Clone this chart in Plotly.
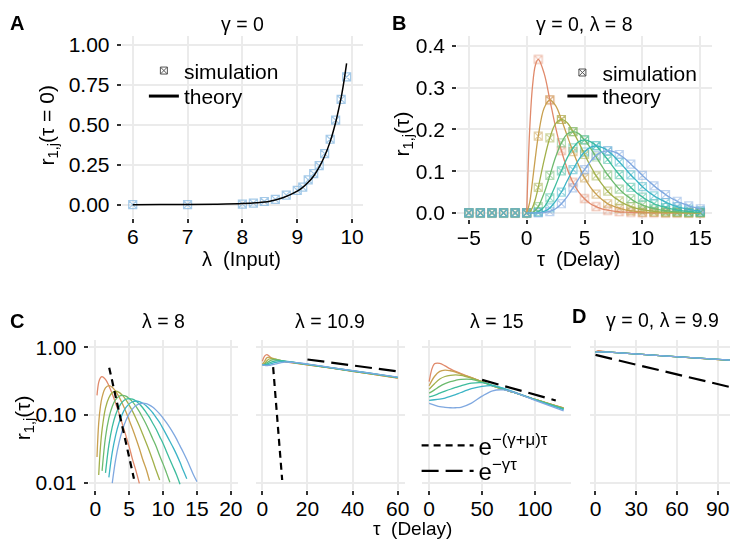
import plotly.graph_objects as go

# The page puts an 8 px body margin round the plot, so the figure is sized to fit
# inside the 743x552 window and every position below is given in window pixels.
OFF = 8
W, H = 743 - 2 * OFF, 552 - 2 * OFF
FONT = "Liberation Sans, Arial, sans-serif"
COLORS = ["#E0896A", "#C9A050", "#A2B04A", "#6DBA6E", "#3DBC9E", "#3CB4C6", "#7FA8E0"]
SIM_A_COLOR = "#7FB5E0"

# ---- panel A: r(tau=0) vs input lambda
lam_sim = [6, 7, 8, 8.2, 8.4, 8.6, 8.8, 9, 9.1, 9.2, 9.3, 9.4, 9.5, 9.6, 9.7, 9.8, 9.9]
r0_sim = [0, 0, 0.004, 0.01, 0.02, 0.033, 0.06, 0.09, 0.11, 0.155, 0.195, 0.245, 0.32, 0.41, 0.53, 0.66, 0.80]
lam_theory = [6, 6.5, 7, 7.5, 8, 8.25, 8.5, 8.75, 9, 9.1, 9.2, 9.3, 9.4, 9.5, 9.6, 9.7, 9.75, 9.8, 9.85, 9.9]
r0_theory = [0, 0.0005, 0.001, 0.003, 0.007, 0.012, 0.022, 0.045, 0.085, 0.108, 0.14, 0.18, 0.235,
             0.305, 0.395, 0.515, 0.59, 0.67, 0.77, 0.885]

# ---- panel B: r_{1,j}(tau), gamma=0, lambda=8
tau_sim = [-5, -4, -3, -2, -1, 0, 1, 2, 3, 4, 5, 6, 7, 8, 9, 10, 11, 12, 13, 14, 15]
sim_j1 = [0, 0, 0, 0, 0, 0, .368, .271, .149, .073, .034, .015, .006, .003, .001, 0, 0, 0, 0, 0, 0]
sim_j2 = [0, 0, 0, 0, 0, 0, .184, .271, .224, .147, .084, .045, .022, .011, .005, .002, .001, 0, 0, 0, 0]
sim_j3 = [0, 0, 0, 0, 0, 0, .061, .180, .224, .195, .140, .089, .052, .029, .015, .008, .004, .002, .001, 0, 0]
sim_j4 = [0, 0, 0, 0, 0, 0, .015, .090, .168, .195, .175, .134, .091, .057, .034, .019, .010, .005, .003, .001, .001]
sim_j5 = [0, 0, 0, 0, 0, 0, .003, .036, .101, .156, .175, .161, .128, .092, .061, .038, .022, .013, .007, .004, .002]
sim_j6 = [0, 0, 0, 0, 0, 0, .001, .012, .050, .104, .146, .161, .149, .122, .091, .063, .041, .025, .015, .009, .005]
sim_j7 = [0, 0, 0, 0, 0, 0, 0, .003, .022, .060, .104, .138, .149, .140, .117, .090, .065, .044, .028, .017, .010]

tau_th = [0, .25, .5, .75, 1, 1.5, 2, 2.5, 3, 3.5, 4, 4.5, 5, 5.5, 6, 6.5, 7, 7.5, 8, 8.5, 9, 9.5,
          10, 10.5, 11, 11.5, 12, 12.5, 13, 13.5, 14, 14.5, 15]
th_j1 = [0, .195, .303, .354, .368, .335, .271, .205, .149, .106, .073, .050, .034, .022, .015, .0098,
         .0064, .0041, .0027, .0017, .0011, .0007, .0005, .0003, .0002, .0001, .0001, 0, 0, 0, 0, 0, 0]
th_j2 = [0, .024, .076, .133, .184, .251, .271, .257, .224, .185, .147, .113, .084, .062, .045, .032,
         .022, .016, .0107, .0074, .0050, .0034, .0023, .0015, .0010, .0007, .0004, .0003, .0002, .0001,
         .0001, 0, 0]
th_j3 = [0, .002, .013, .033, .061, .126, .180, .214, .224, .216, .195, .169, .140, .113, .089, .069,
         .052, .039, .029, .021, .015, .011, .0076, .0053, .0037, .0026, .0018, .0012, .0008, .0006,
         .0004, .0003, .0002]
th_j4 = [0, .0001, .0016, .0062, .015, .047, .090, .134, .168, .189, .195, .190, .175, .156, .134, .112,
         .091, .073, .057, .044, .034, .025, .019, .014, .0102, .0074, .0053, .0038, .0027, .0019,
         .0013, .0009, .0006]
th_j5 = [0, 0, .0002, .0009, .0031, .014, .036, .067, .101, .132, .156, .171, .175, .171, .161, .145,
         .128, .109, .092, .075, .061, .048, .038, .029, .022, .017, .013, .0095, .0070, .0051, .0037,
         .0026, .0019]
th_j6 = [0, 0, 0, .0001, .0005, .0035, .012, .028, .050, .077, .104, .128, .146, .157, .161, .157,
         .149, .137, .122, .107, .091, .077, .063, .051, .041, .033, .026, .020, .015, .0115, .0087,
         .0063, .0048]
th_j7 = [0, 0, 0, 0, .0001, .0008, .0034, .0099, .022, .039, .060, .082, .104, .123, .138, .146, .149,
         .147, .140, .130, .117, .104, .090, .077, .065, .054, .044, .035, .028, .022, .017, .013, .0104]

# ---- panel C: log scale, three input levels
c1_fast_tau = [2.05, 5.7]
c1_fast_r = [0.5, 0.0115]

c2_tau = [0, 1, 2, 3, 4, 5, 6, 8, 10, 15, 20, 30, 40, 50, 60]
c2_j1 = [0.62, 0.74, 0.78, 0.74, 0.69, 0.66, 0.645, 0.625, 0.61, 0.58, 0.55, 0.495, 0.44, 0.395, 0.35]
c2_j2 = [0.56, 0.62, 0.70, 0.715, 0.70, 0.68, 0.66, 0.635, 0.615, 0.582, 0.552, 0.495, 0.442, 0.396, 0.352]
c2_j3 = [0.555, 0.575, 0.63, 0.67, 0.68, 0.675, 0.665, 0.64, 0.62, 0.585, 0.555, 0.497, 0.444, 0.398, 0.354]
c2_j4 = [0.555, 0.56, 0.59, 0.62, 0.645, 0.655, 0.655, 0.64, 0.62, 0.587, 0.557, 0.499, 0.446, 0.40, 0.356]
c2_j5 = [0.555, 0.55, 0.565, 0.585, 0.605, 0.62, 0.63, 0.635, 0.625, 0.59, 0.56, 0.50, 0.448, 0.402, 0.358]
c2_j6 = [0.555, 0.545, 0.55, 0.56, 0.575, 0.59, 0.60, 0.615, 0.62, 0.592, 0.562, 0.502, 0.45, 0.404, 0.36]
c2_j7 = [0.555, 0.54, 0.535, 0.54, 0.548, 0.557, 0.568, 0.59, 0.605, 0.595, 0.565, 0.505, 0.452, 0.406, 0.362]
c2_fast_tau = [4.8, 8.8]
c2_fast_r = [0.51, 0.011]
c2_slow_tau = [20, 60]
c2_slow_r = [0.66, 0.44]

c3_tau = [0, 5, 10, 15, 20, 25, 30, 40, 50, 60, 70, 80, 100, 127]
c3_j1 = [0.31, 0.57, 0.58, 0.53, 0.48, 0.44, 0.41, 0.355, 0.31, 0.27, 0.24, 0.215, 0.17, 0.127]
c3_j2 = [0.27, 0.37, 0.44, 0.46, 0.45, 0.43, 0.40, 0.355, 0.31, 0.27, 0.24, 0.215, 0.17, 0.126]
c3_j3 = [0.24, 0.29, 0.34, 0.37, 0.385, 0.39, 0.385, 0.35, 0.31, 0.27, 0.24, 0.215, 0.17, 0.126]
c3_j4 = [0.21, 0.235, 0.265, 0.29, 0.31, 0.325, 0.335, 0.335, 0.305, 0.27, 0.24, 0.215, 0.17, 0.124]
c3_j5 = [0.185, 0.195, 0.21, 0.225, 0.24, 0.255, 0.27, 0.295, 0.30, 0.275, 0.245, 0.215, 0.168, 0.122]
c3_j6 = [0.165, 0.168, 0.172, 0.178, 0.188, 0.20, 0.215, 0.245, 0.265, 0.27, 0.25, 0.22, 0.168, 0.12]
c3_j7 = [0.148, 0.14, 0.133, 0.13, 0.128, 0.128, 0.13, 0.15, 0.19, 0.228, 0.235, 0.215, 0.165, 0.115]
c3_slow_tau = [50, 119.6]
c3_slow_r = [0.33, 0.164]

# ---- panel D: gamma=0, lambda=9.9
d_tau = [0, 2, 5, 10, 50, 100.5]
d_j1 = [0.85, 0.89, 0.87, 0.85, 0.745, 0.638]
d_j2 = [0.85, 0.87, 0.865, 0.85, 0.746, 0.639]
d_j3 = [0.85, 0.862, 0.86, 0.848, 0.747, 0.640]
d_j4 = [0.85, 0.858, 0.858, 0.848, 0.747, 0.641]
d_j5 = [0.85, 0.855, 0.856, 0.847, 0.747, 0.642]
d_j6 = [0.85, 0.853, 0.855, 0.847, 0.748, 0.643]
d_j7 = [0.85, 0.851, 0.853, 0.846, 0.748, 0.645]
d_slow_tau = [0, 100.5]
d_slow_r = [0.77, 0.255]

SIM_B = [sim_j1, sim_j2, sim_j3, sim_j4, sim_j5, sim_j6, sim_j7]
TH_B = [th_j1, th_j2, th_j3, th_j4, th_j5, th_j6, th_j7]
C2 = [c2_j1, c2_j2, c2_j3, c2_j4, c2_j5, c2_j6, c2_j7]
C3 = [c3_j1, c3_j2, c3_j3, c3_j4, c3_j5, c3_j6, c3_j7]
D = [d_j1, d_j2, d_j3, d_j4, d_j5, d_j6, d_j7]


def xd(px):
    return (px - OFF) / W


def yd(px):
    return 1 - (px - OFF) / H


def visible_on_log(xs, ys, floor=0.0095):
    pairs = [(x, y) for x, y in zip(xs, ys) if x > 0 and y >= floor]
    return [p[0] for p in pairs], [p[1] for p in pairs]


fig = go.Figure()


def curve(x, y, ax, color, width=1.3, dash="solid"):
    fig.add_trace(go.Scatter(
        x=x, y=y, mode="lines", xaxis="x" + ax, yaxis="y" + ax,
        line=dict(color=color, width=width, dash=dash, shape="spline"),
        showlegend=False, hoverinfo="skip",
    ))


# panel A
fig.add_trace(go.Scatter(x=lam_sim, y=r0_sim, mode="markers", xaxis="x", yaxis="y",
                         marker=dict(symbol="square-x-open", size=8, color=SIM_A_COLOR,
                                     line=dict(width=1.2)),
                         opacity=0.7, showlegend=False))
curve(lam_theory, r0_theory, "", "black", width=1.5)

# panel B
for i in range(7):
    fig.add_trace(go.Scatter(x=tau_sim, y=SIM_B[i], mode="markers", xaxis="x2", yaxis="y2",
                             marker=dict(symbol="square-x-open", size=8, color=COLORS[i],
                                         line=dict(width=1.2)),
                             opacity=0.5, showlegend=False))
for i in range(7):
    curve(tau_th, TH_B[i], "2", COLORS[i])

# panel C1..C3, D
for i in range(7):
    xs, ys = visible_on_log(tau_th, TH_B[i])
    curve(xs, ys, "3", COLORS[i])
    curve(c2_tau, C2[i], "4", COLORS[i])
    curve(c3_tau, C3[i], "5", COLORS[i])
    curve(d_tau, D[i], "6", COLORS[i])

SHORT = "7px,5px"
LONG = "17px,7px"
curve(c1_fast_tau, c1_fast_r, "3", "black", 2.2, SHORT)
curve(c2_fast_tau, c2_fast_r, "4", "black", 2.2, SHORT)
curve(c2_slow_tau, c2_slow_r, "4", "black", 2.2, LONG)
curve(c3_slow_tau, c3_slow_r, "5", "black", 2.2, LONG)
curve(d_slow_tau, d_slow_r, "6", "black", 2.2, LONG)

# legend entries, one small legend per entry so each row sits where the reference has it
fig.add_trace(go.Scatter(x=[None], y=[None], mode="markers", xaxis="x", yaxis="y",
                         marker=dict(symbol="square-x-open", size=7, color="#555555"),
                         name="simulation", legend="legend"))
fig.add_trace(go.Scatter(x=[None], y=[None], mode="lines", xaxis="x", yaxis="y",
                         line=dict(color="black", width=3), name="theory", legend="legend2"))
fig.add_trace(go.Scatter(x=[None], y=[None], mode="markers", xaxis="x2", yaxis="y2",
                         marker=dict(symbol="square-x-open", size=7, color="#555555"),
                         name="simulation", legend="legend3"))
fig.add_trace(go.Scatter(x=[None], y=[None], mode="lines", xaxis="x2", yaxis="y2",
                         line=dict(color="black", width=3), name="theory", legend="legend4"))
fig.add_trace(go.Scatter(x=[None], y=[None], mode="lines", xaxis="x5", yaxis="y5",
                         line=dict(color="black", width=2.2, dash=SHORT),
                         name="e<sup>\u2212(\u03b3+\u03bc)\u03c4</sup>", legend="legend5"))
fig.add_trace(go.Scatter(x=[None], y=[None], mode="lines", xaxis="x5", yaxis="y5",
                         line=dict(color="black", width=2.2, dash=LONG),
                         name="e<sup>\u2212\u03b3\u03c4</sup>", legend="legend6"))

# axes (panel edges in window pixels: left, top, right, bottom)
PANELS = {
    "": (121.7, 31.7, 365, 217),
    "2": (460, 31.7, 716.7, 218),
    "3": (88.2, 341.7, 238.5, 493.6),
    "4": (256.6, 341.7, 406.8, 493.6),
    "5": (424.3, 341.7, 575, 493.6),
    "6": (594.3, 341.7, 735, 493.6),
}
TICK = 21
base = dict(showgrid=True, gridcolor="#EBEBEB", gridwidth=1.5, zeroline=False, showline=False,
            ticks="outside", ticklen=4, tickwidth=1.5, tickcolor="#333333",
            tickfont=dict(size=TICK, color="black", family=FONT))
xcfg = {
    "": dict(range=[5.8, 10.2], tickvals=[6, 7, 8, 9, 10]),
    "2": dict(range=[-6, 16], tickvals=[-5, 0, 5, 10, 15]),
    "3": dict(range=[-1, 21], tickvals=[0, 5, 10, 15, 20]),
    "4": dict(range=[-3, 63], tickvals=[0, 20, 40, 60]),
    "5": dict(range=[-6.9, 134.3], tickvals=[0, 50, 100]),
    "6": dict(range=[-3.7, 99.1], tickvals=[0, 30, 60, 90]),
}
logy = dict(type="log", range=[-2.1, 0.1], tickvals=[0.01, 0.1, 1], ticktext=["0.01", "0.10", "1.00"])
ycfg = {
    "": dict(range=[-0.084, 1.055], tickvals=[0, 0.25, 0.5, 0.75, 1], tickformat=".2f"),
    "2": dict(range=[-0.0148, 0.4235], tickvals=[0, 0.1, 0.2, 0.3, 0.4], tickformat=".1f"),
    "3": dict(logy),
    "4": dict(logy, showticklabels=False, ticks=""),
    "5": dict(logy, showticklabels=False, ticks=""),
    "6": dict(logy, showticklabels=False, ticks=""),
}
layout_axes = {}
for ax, (l, t, r, b) in PANELS.items():
    layout_axes["xaxis" + ax] = dict(base, domain=[max(xd(l), 0), min(xd(r), 1)], anchor="y" + ax,
                                     ticklabelstandoff=-4, **xcfg[ax])
    layout_axes["yaxis" + ax] = dict(base, domain=[yd(b), yd(t)], anchor="x" + ax,
                                     ticklabelstandoff=3, **ycfg[ax])

fig.update_layout(**layout_axes)

# text
annotations = []


def text(s, x, y, size=21, bold=False, angle=0):
    annotations.append(dict(text="<b>%s</b>" % s if bold else s, x=xd(x), y=yd(y),
                            xref="paper", yref="paper", showarrow=False, textangle=angle,
                            xanchor="center", yanchor="middle",
                            font=dict(size=size, color="black", family=FONT)))


TITLE = 19.5
text("A", 16, 18, 20, bold=True)
text("B", 401, 18, 20, bold=True)
text("C", 16, 322, 20, bold=True)
text("D", 582.6, 317, 20, bold=True)
text("\u03b3 = 0", 243.3, 19, TITLE)
text("\u03b3 = 0, \u03bb = 8", 588, 19, TITLE)
text("\u03bb = 8", 163.4, 322, TITLE)
text("\u03bb = 10.9", 331.7, 322, TITLE)
text("\u03bb = 15", 499.7, 322, TITLE)
text("\u03b3 = 0, \u03bb = 9.9", 667, 321, TITLE)
text("\u03bb  (Input)", 242.5, 259, 20)
text("\u03c4  (Delay)", 582.5, 259, 20)
text("\u03c4  (Delay)", 415, 533, 19)
text("r<sub>1,j</sub>(\u03c4 = 0)", 47, 123, 21, angle=-90)
text("r<sub>1,j</sub>(\u03c4)", 405, 131, 21, angle=-90)
text("r<sub>1,j</sub>(\u03c4)", 23, 420, 21, angle=-90)


def one_legend(x, y, size=21, itemwidth=30):
    return dict(bgcolor="rgba(0,0,0,0)", borderwidth=0, xanchor="left", yanchor="middle",
                x=xd(x), y=yd(y), itemwidth=itemwidth,
                font=dict(size=size, color="black", family=FONT))


fig.update_layout(
    width=W, height=H,
    margin=dict(l=0, r=0, t=0, b=0),
    paper_bgcolor="white", plot_bgcolor="white",
    font=dict(family=FONT, color="black"),
    annotations=annotations,
    legend=one_legend(144, 67),
    legend2=one_legend(144, 93),
    legend3=one_legend(566, 69),
    legend4=one_legend(566, 93),
    legend5=one_legend(419, 449, 24, 52),
    legend6=one_legend(419, 475, 24, 52),
)

fig.write_html("out.html")
